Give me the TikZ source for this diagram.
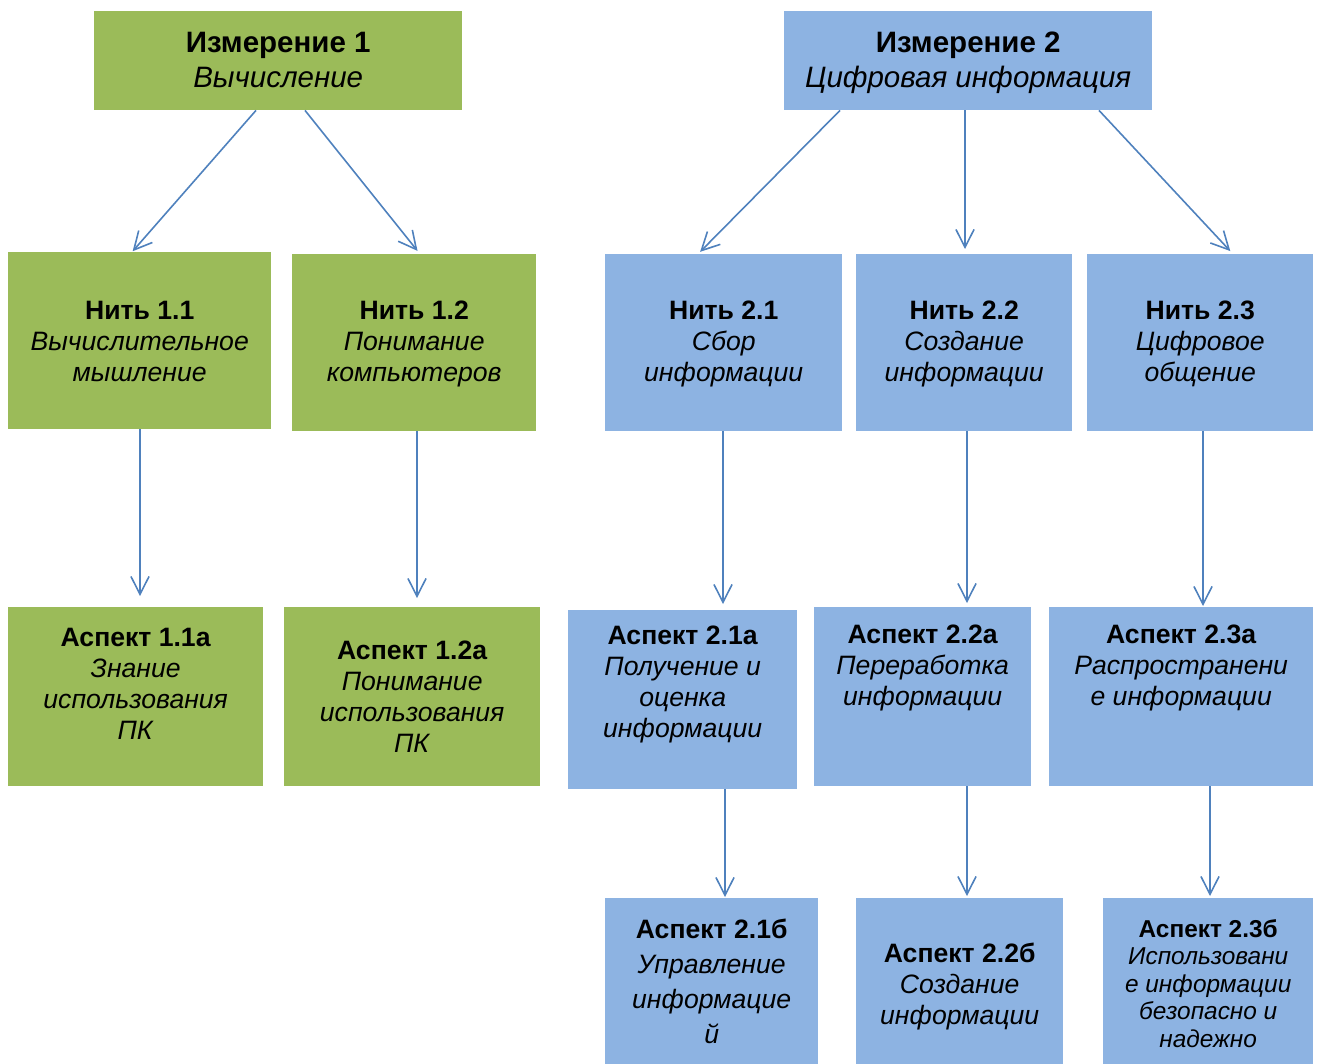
\documentclass[tikz,border=0pt]{standalone}
\usepackage{fontspec}
\setmainfont{Liberation Sans}
\usetikzlibrary{arrows.meta,calc}
\definecolor{dimgreen}{HTML}{9BBB59}
\definecolor{strandblue}{HTML}{8DB3E2}
\definecolor{linkblue}{HTML}{4F81BD}
\tikzset{%
        x=1pt, y=-1pt,
        every node/.style={inner sep=0pt, anchor=north west},
        green box/.style={fill=dimgreen, draw=none},
        blue box/.style={fill=strandblue, draw=none},
        box text/.style={align=center, anchor=center, font=\fontsize{26.6}{31}\selectfont},
        title text/.style={box text, font=\fontsize{29.5}{35}\selectfont},
        link/.style={draw=linkblue, line width=1.6pt, shorten >=1pt,
                -{Straight Barb[angle=54:20pt, line width=1.6pt]}}
}
\begin{document}
\begin{tikzpicture}
    \useasboundingbox (0,0) rectangle (1318,1064);
    % dimensions
    \node[green box, minimum width=368pt, minimum height=99pt,
        label={[title text, yshift=1pt]center:{\textbf{Измерение 1}\\\textit{Вычисление}}}] (d1) at (94,11) {};
    \node[blue box, minimum width=368pt, minimum height=99pt,
        label={[title text, yshift=-2pt]center:{\textbf{Измерение 2}\\\textit{Цифровая информация}}}] (d2) at (784,11) {};
    % strands
    \node[green box, minimum width=263pt, minimum height=177pt,
        label={[box text, yshift=-1pt]center:{\textbf{Нить 1.1}\\\textit{Вычислительное}\\\textit{мышление}}}] (n11) at (8,252) {};
    \node[green box, minimum width=244pt, minimum height=177pt,
        label={[box text, yshift=-1pt]center:{\textbf{Нить 1.2}\\\textit{Понимание}\\\textit{компьютеров}}}] (n12) at (292,254) {};
    \node[blue box, minimum width=237pt, minimum height=177pt,
        label={[box text, yshift=-1pt]center:{\textbf{Нить 2.1}\\\textit{Сбор}\\\textit{информации}}}] (n21) at (605,254) {};
    \node[blue box, minimum width=216pt, minimum height=177pt,
        label={[box text, yshift=-1pt]center:{\textbf{Нить 2.2}\\\textit{Создание}\\\textit{информации}}}] (n22) at (856,254) {};
    \node[blue box, minimum width=226pt, minimum height=177pt,
        label={[box text, yshift=-1pt]center:{\textbf{Нить 2.3}\\\textit{Цифровое}\\\textit{общение}}}] (n23) at (1087,254) {};
    % aspects
    \node[green box, minimum width=255pt, minimum height=179pt,
        label={[box text, yshift=13pt]center:{\textbf{Аспект 1.1а}\\\textit{Знание}\\\textit{использования}\\\textit{ПК}}}] (a11) at (8,607) {};
    \node[green box, minimum width=256pt, minimum height=179pt,
        label={[box text]center:{\textbf{Аспект 1.2а}\\\textit{Понимание}\\\textit{использования}\\\textit{ПК}}}] (a12) at (284,607) {};
    \node[blue box, minimum width=229pt, minimum height=179pt,
        label={[box text, yshift=15pt]center:{\textbf{Аспект 2.1а}\\\textit{Получение и}\\\textit{оценка}\\\textit{информации}}}] (a21) at (568,610) {};
    \node[blue box, minimum width=217pt, minimum height=179pt,
        label={[box text, yshift=29pt]center:{\textbf{Аспект 2.2а}\\\textit{Переработка}\\\textit{информации}}}] (a22) at (814,607) {};
    \node[blue box, minimum width=264pt, minimum height=179pt,
        label={[box text, yshift=29pt]center:{\textbf{Аспект 2.3а}\\\textit{Распространени}\\\textit{е информации}}}] (a23) at (1049,607) {};
    \node[blue box, minimum width=213pt, minimum height=166pt,
        label={[box text, font=\fontsize{26.6}{35}\selectfont]center:{\textbf{Аспект 2.1б}\\\textit{Управление}\\\textit{информацие}\\\textit{й}}}] (b21) at (605,898) {};
    \node[blue box, minimum width=207pt, minimum height=166pt,
        label={[box text, yshift=-5pt]center:{\textbf{Аспект 2.2б}\\\textit{Создание}\\\textit{информации}}}] (b22) at (856,898) {};
    \node[blue box, minimum width=210pt, minimum height=166pt,
        label={[box text, yshift=-2pt, font=\fontsize{24.4}{27.5}\selectfont]center:{\textbf{Аспект 2.3б}\\\textit{Использовани}\\\textit{е информации}\\\textit{безопасно и}\\\textit{надежно}}}] (b23) at (1103,898) {};
    % connectors
    \draw[link] ([xshift=162pt]d1.south west) -- ([xshift=124pt]n11.north west);
    \draw[link, shorten >=4pt] ([xshift=211pt]d1.south west) -- ([xshift=128pt]n12.north west);
    \draw[link, shorten >=3pt] ([xshift=56pt]d2.south west) -- ([xshift=93pt]n21.north west);
    \draw[link, shorten >=5pt] ([xshift=181pt]d2.south west) -- ([xshift=109pt]n22.north west);
    \draw[link, shorten >=4pt] ([xshift=315pt]d2.south west) -- ([xshift=146pt]n23.north west);
    \foreach \from/\fx/\to/\tx/\gap in {n11/132/a11/132/11, n12/125/a12/133/9,
            n21/118/a21/155/6, n22/111/a22/153/4, n23/116/a23/154/1,
            a21/157/b21/120/1, a22/153/b22/111/2, a23/161/b23/107/2}
        \draw[link, shorten >=\gap pt] ([xshift=\fx pt]\from.south west) -- ([xshift=\tx pt]\to.north west);
\end{tikzpicture}
\end{document}
